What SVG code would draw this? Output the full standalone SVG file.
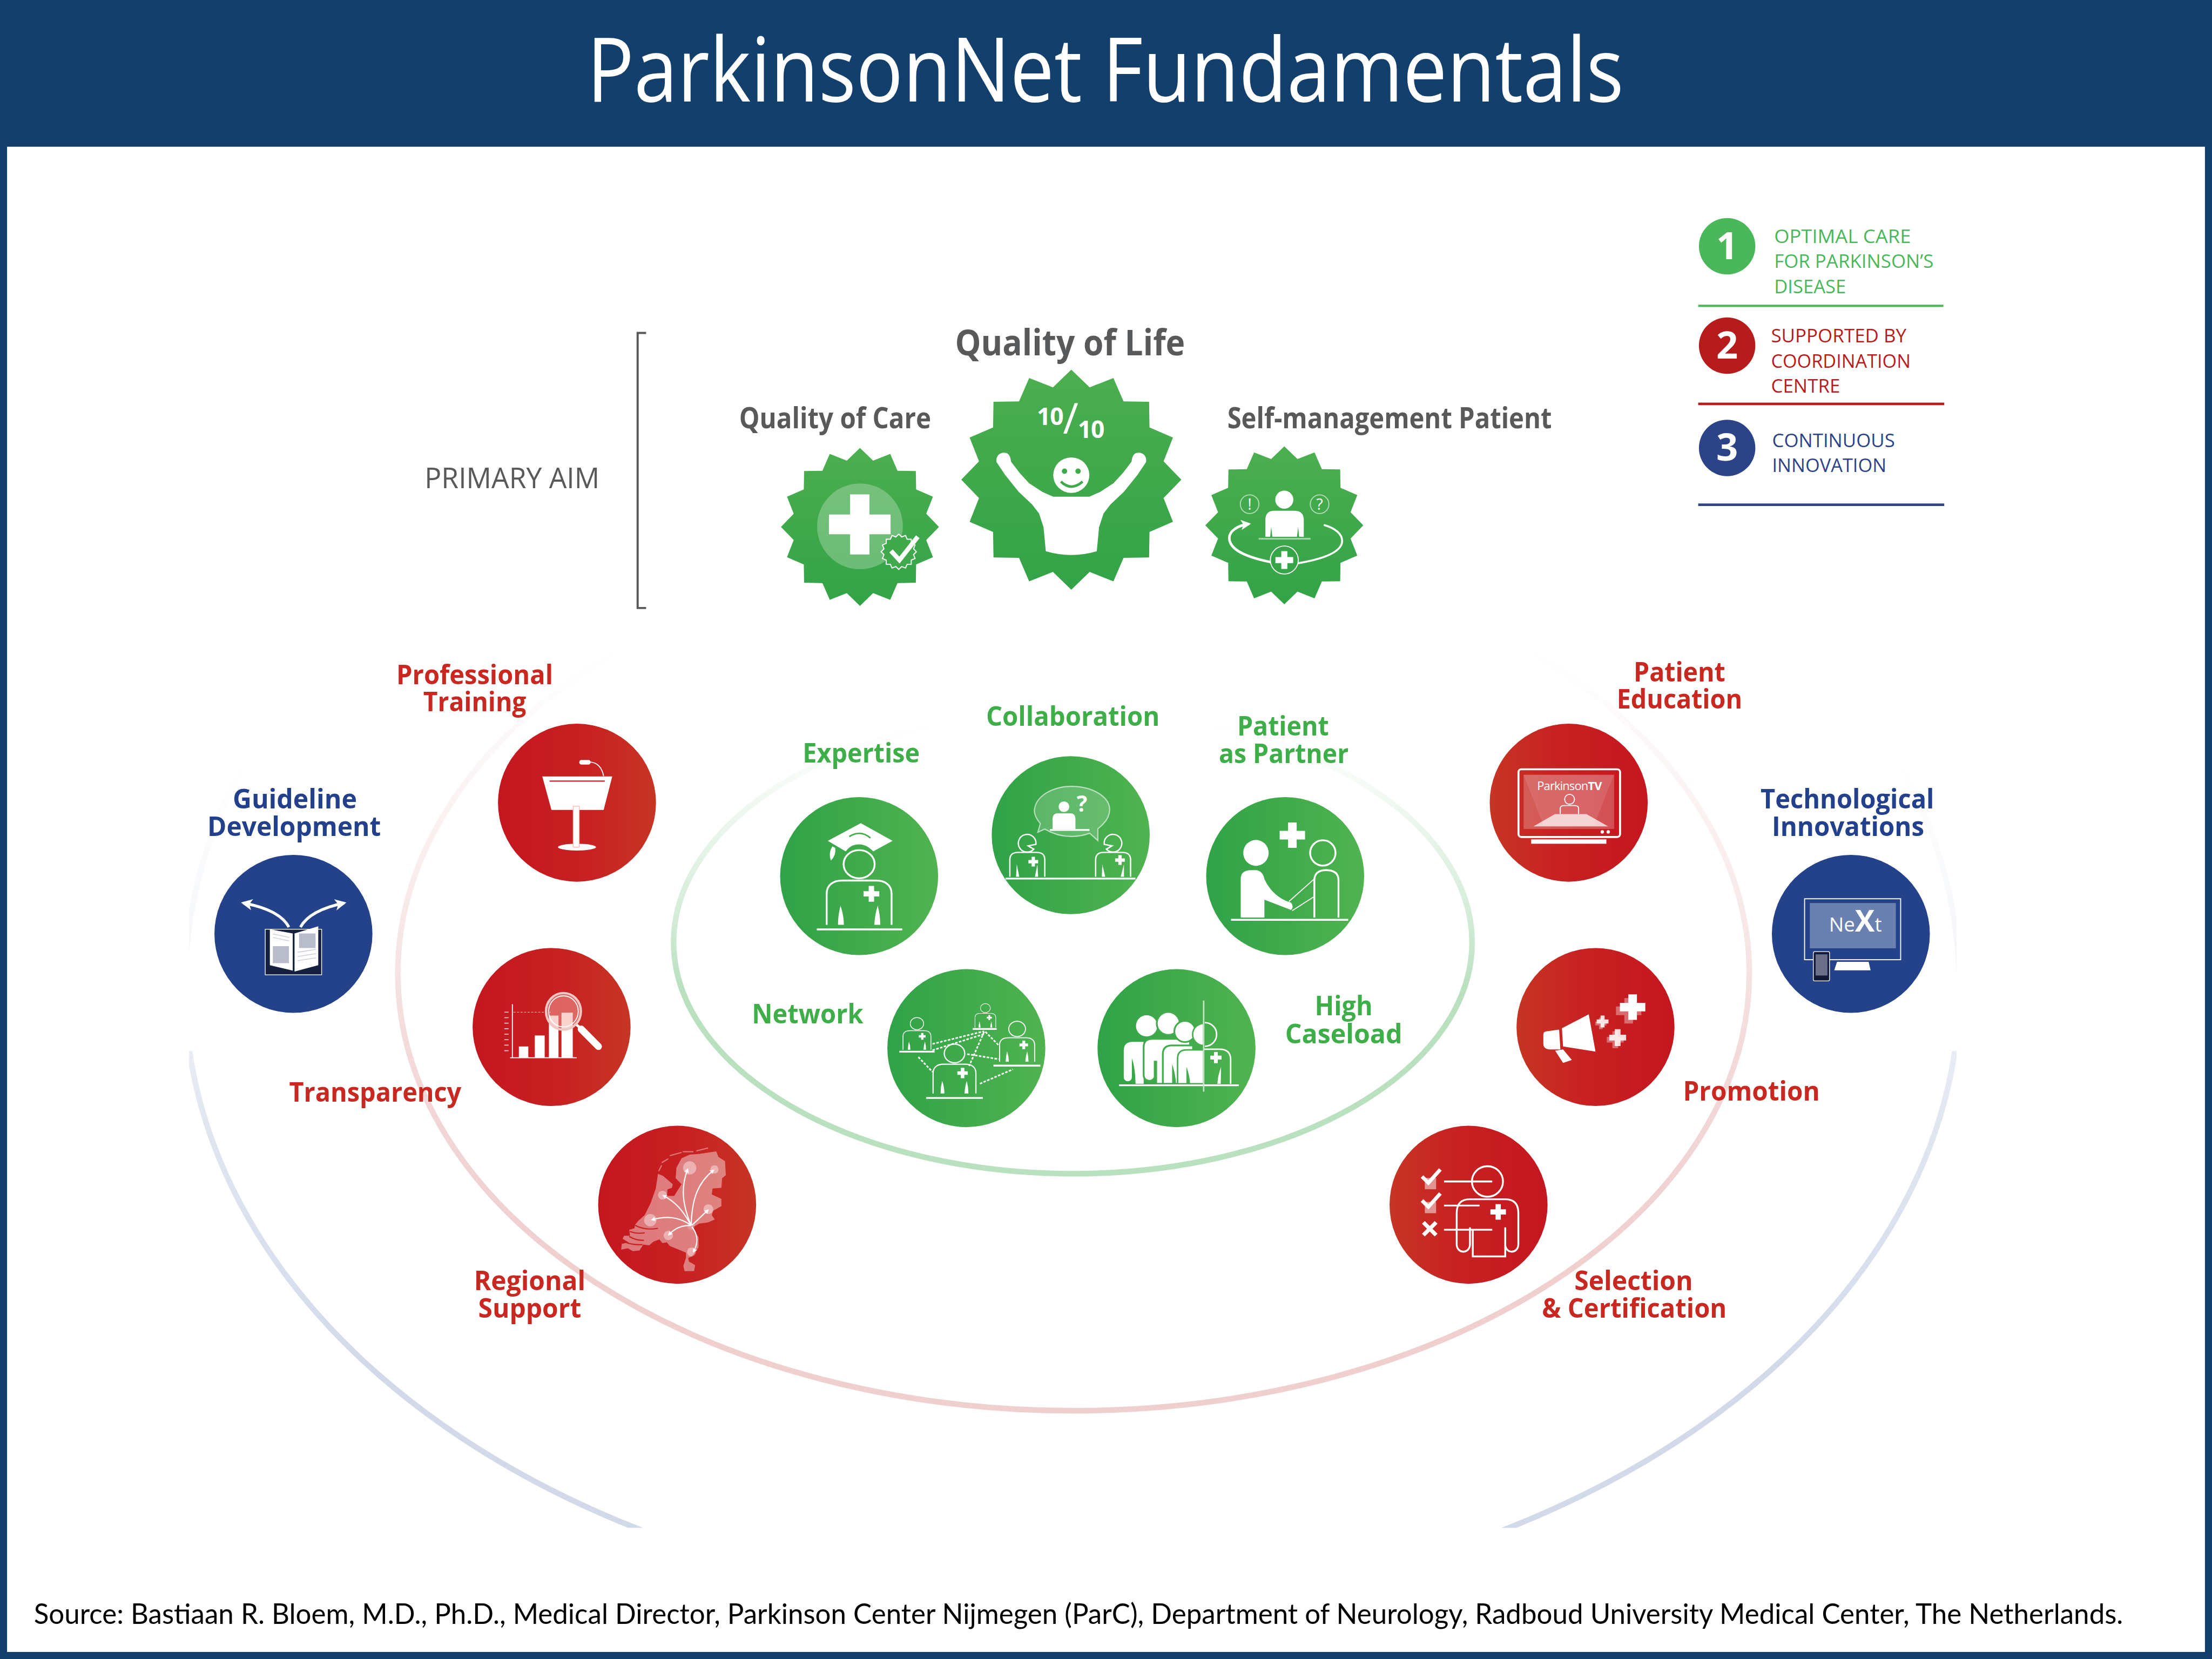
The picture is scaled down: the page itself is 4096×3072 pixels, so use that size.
<svg xmlns="http://www.w3.org/2000/svg" xmlns:xlink="http://www.w3.org/1999/xlink" width="4096" height="3072" viewBox="0 0 4096 3072">
<style>
text{font-family:"Open Sans","Noto Sans","Liberation Sans",sans-serif}
.lg{font-weight:700;font-size:19.5px;fill:#3eae49}
.lr{font-weight:700;font-size:19.5px;fill:#c8281f}
.lb{font-weight:700;font-size:19.5px;fill:#22408b}
.aim{font-weight:700;fill:#58595b}
.leg{font-size:13.5px}
.dig{font-weight:700;font-size:27px;fill:#fff;text-anchor:middle}
.ln{fill:none;stroke:#fff;stroke-width:1.3}
.th{fill:none;stroke:#fff;stroke-width:.7}
.wf{fill:#fff}
.dash{fill:none;stroke:#fff;stroke-width:1.1;stroke-dasharray:1.8 1}
.ring{fill:none;stroke-width:4}
.cg{fill:url(#gG)}.crl{fill:url(#gRL)}.crr{fill:url(#gRR)}.cb{fill:#24428a}
</style>
<defs>
<linearGradient id="gG"><stop offset="0" stop-color="#30a247"/><stop offset="1" stop-color="#50b350"/></linearGradient>
<linearGradient id="gRL"><stop offset="0" stop-color="#c4161f"/><stop offset=".6" stop-color="#c82222"/><stop offset="1" stop-color="#c63524"/></linearGradient>
<linearGradient id="gRR"><stop offset="0" stop-color="#c63524"/><stop offset=".4" stop-color="#c82222"/><stop offset="1" stop-color="#c4161f"/></linearGradient>
<linearGradient id="gS" x1="0" y1="0" x2="0" y2="1"><stop offset="0" stop-color="#4cae4f"/><stop offset="1" stop-color="#32a347"/></linearGradient>
<linearGradient id="rG" gradientUnits="userSpaceOnUse" x1="0" y1="510" x2="0" y2="830"><stop offset="0" stop-color="#b9e0bf" stop-opacity="0"/><stop offset=".12" stop-color="#b9e0bf" stop-opacity=".12"/><stop offset=".4" stop-color="#b9e0bf" stop-opacity=".55"/><stop offset=".6" stop-color="#b9e0bf"/><stop offset="1" stop-color="#b9e0bf"/></linearGradient>
<linearGradient id="rR" gradientUnits="userSpaceOnUse" x1="0" y1="460" x2="0" y2="1000"><stop offset="0" stop-color="#f0cfcf" stop-opacity="0"/><stop offset=".1" stop-color="#f0cfcf" stop-opacity=".12"/><stop offset=".3" stop-color="#f0cfcf" stop-opacity=".4"/><stop offset=".55" stop-color="#f0cfcf" stop-opacity=".8"/><stop offset=".8" stop-color="#f0cfcf"/></linearGradient>
<linearGradient id="rB" gradientUnits="userSpaceOnUse" x1="0" y1="540" x2="0" y2="1083"><stop offset="0" stop-color="#d2daea" stop-opacity="0"/><stop offset=".25" stop-color="#d2daea" stop-opacity=".25"/><stop offset=".45" stop-color="#d2daea" stop-opacity=".65"/><stop offset=".8" stop-color="#d2daea"/></linearGradient>
<clipPath id="cpB"><rect x="134" y="450" width="1253" height="240"/><rect x="134" y="745" width="1253" height="338"/></clipPath>
<marker id="wa" viewBox="0 0 10 10" refX="8" refY="5" markerWidth="4" markerHeight="4" orient="auto-start-reverse"><path d="M0 0L10 5L0 10L2.5 5Z" fill="#fff"/></marker>
<polygon id="star" points="0,-100 16.68,-83.86 38.27,-92.39 47.5,-71.09 70.71,-70.71 71.09,-47.5 92.39,-38.27 83.86,-16.68 100,0 83.86,16.68 92.39,38.27 71.09,47.5 70.71,70.71 47.5,71.09 38.27,92.39 16.68,83.86 0,100 -16.68,83.86 -38.27,92.39 -47.5,71.09 -70.71,70.71 -71.09,47.5 -92.39,38.27 -83.86,16.68 -100,0 -83.86,-16.68 -92.39,-38.27 -71.09,-47.5 -70.71,-70.71 -47.5,-71.09 -38.27,-92.39 -16.68,-83.86"/>
<path id="cross" d="M-.34-1H.34V-.34H1V.34H.34V1H-.34V.34H-1V-.34H-.34Z" fill="#fff"/>
<g id="docbody">
<path class="ln" d="M-23 34.6V12.6C-23 6-18 3.2-12 3.2H12C18 3.2 23 6 23 12.6V34.6"/>
<path class="wf" d="M-13.2 21Q-15 28-15 34.6H-10.8Q-10.8 28-13.2 21ZM13.2 21Q11 28 10.8 34.6H15Q15 28 13.2 21Z"/>
<use xlink:href="#cross" href="#cross" transform="translate(8.7 12.6) scale(5.6)"/>
</g>
<g id="doc">
<ellipse class="ln" cx="0" cy="-8.4" rx="11" ry="10"/>
<use xlink:href="#docbody" href="#docbody"/>
</g>
</defs>
<g transform="scale(2.61224)">
<rect id="background" width="1568" height="1176" fill="#fff"/>
<g id="frame" fill="#123f6b">
<rect width="1568" height="104"/><rect width="5" height="1176"/><rect x="1563" width="5" height="1176"/><rect y="1171" width="1568" height="5"/>
<text x="416" y="72" font-size="63" fill="#fff" textLength="735" lengthAdjust="spacingAndGlyphs">ParkinsonNet Fundamentals</text>
</g>

<g id="connectors">
<ellipse class="ring" cx="760" cy="700" rx="629" ry="440" stroke="url(#rB)" clip-path="url(#cpB)"/>
<ellipse class="ring" cx="761" cy="690" rx="479" ry="310" stroke="url(#rR)"/>
<ellipse class="ring" cx="760.5" cy="668" rx="283" ry="164" stroke="url(#rG)"/>
</g>

<g id="primary-aim">
<path d="M458 236H452V431H458" fill="none" stroke="#58595b" stroke-width="1.5"/>
<text x="301" y="346" font-size="20" fill="#58595b" textLength="124" lengthAdjust="spacingAndGlyphs">PRIMARY AIM</text>
</g>

<g id="quality-of-life">
<text class="aim" x="677" y="252" font-size="25.5" textLength="163" lengthAdjust="spacingAndGlyphs">Quality of Life</text>
<use xlink:href="#star" href="#star" fill="url(#gS)" transform="translate(759.4 340) scale(.78)"/>
<text x="735" y="301.4" fill="#fff" font-size="17" font-weight="700" textLength="48" lengthAdjust="spacing">10<tspan font-size="30" dy="6" font-weight="400">/</tspan><tspan dy="3">10</tspan></text>
<g transform="translate(759.4 340)">
<path class="wf" d="M-47.5-18.6C-44-18.6-43.5-15-43.2-12.6L-36.8-4.2L-30.4 2.8L-20.8 9.1L-12.8 12.6H12.8L20.8 9.1L30.4 2.8L36.8-4.2L43.2-12.6C43.5-15 44-18.6 47.5-18.6C51.5-18.6 53-15.5 52.5-12.6L46.4-3.5L36.8 8.4L27.2 17.5L22.4 23.8L19.2 33.6L17.6 50.4Q0 55.5-17.6 50.4L-19.2 33.6L-22.4 23.8L-27.2 17.5L-36.8 8.4L-46.4-3.5L-52.5-12.6C-53-15.5-51.5-18.6-47.5-18.6Z" stroke="#fff" stroke-width="1" stroke-linejoin="round"/>
<ellipse class="wf" cx="0" cy="-3.2" rx="12.8" ry="12.6"/>
<circle cx="-4.8" cy="-6" r="1.9" fill="#3ea94b"/><circle cx="4.8" cy="-6" r="1.9" fill="#3ea94b"/>
<path d="M-7.4 1.4Q0 8.5 8 1.4" fill="none" stroke="#3ea94b" stroke-width="1.8"/>
</g>
</g>

<g id="quality-of-care">
<text class="aim" x="524" y="303.5" font-size="20.5" textLength="136" lengthAdjust="spacingAndGlyphs">Quality of Care</text>
<use xlink:href="#star" href="#star" fill="url(#gS)" transform="translate(609.6 373.5) scale(.56)"/>
<g transform="translate(609.6 373.5)">
<circle cx="0" cy="-.4" r="30.4" fill="#fff" opacity=".26"/>
<path class="wf" d="M-7-23H6.7V-8.8H21.7V5.2H6.7V19.6H-7V5.2H-22V-8.8H-7Z"/>
<use xlink:href="#star" href="#star" fill="#3fa94b" stroke="#fff" stroke-width="6" transform="translate(27.5 17.6) scale(.125)"/>
<path d="M22 17L28 23.5L41 7" fill="none" stroke="#fff" stroke-width="3.2"/>
</g>
</g>

<g id="self-management">
<text class="aim" x="870" y="303.5" font-size="20.5" textLength="230" lengthAdjust="spacingAndGlyphs">Self-management Patient</text>
<use xlink:href="#star" href="#star" fill="url(#gS)" transform="translate(910.4 372.4) scale(.56)"/>
<g transform="translate(910.4 372.4)">
<circle class="wf" cx="0" cy="-18.2" r="6.4"/>
<path class="wf" d="M-13.4 8.1V-4Q-13.4-10.4-7-10.4H7Q13.8-10.4 13.8-4V8.1H10.5L9.8 1L9 8.1H-8.5L-9.3 1L-10 8.1Z"/>
<path d="M-18.2 9.5H18.6" stroke="#fff" stroke-opacity=".5" stroke-width="1.2"/>
<circle class="th" cx="-24.6" cy="-15" r="6.6" stroke-opacity=".6"/><circle class="th" cx="25" cy="-15" r="6.6" stroke-opacity=".6"/>
<text x="-24.6" y="-11" font-size="11" fill="#fff" text-anchor="middle">!</text>
<text x="25" y="-11" font-size="11" fill="#fff" text-anchor="middle">?</text>
<path d="M-8.6 26.3C-25 23-39 18-39 9C-39 4-33 0-25-1" fill="none" stroke="#fff" stroke-width="1.8" marker-end="url(#wa)"/>
<path d="M28-.3C36 2 41 6 41 11C41 19 27 24 9 27" fill="none" stroke="#fff" stroke-width="1.4"/>
<circle cx="0" cy="24.6" r="9.9" fill="#36a548" stroke="#fff" stroke-width=".7"/>
<use xlink:href="#cross" href="#cross" transform="translate(0 24.6) scale(6.3)"/>
</g>
</g>

<g id="expertise">
<text class="lg" x="569" y="540.7" textLength="83" lengthAdjust="spacingAndGlyphs">Expertise</text>
<circle class="cg" cx="609" cy="621" r="56"/>
<g transform="translate(609 621)">
<path class="wf" d="M1.2-37.5L23.7-25L10-17.5C7-21 3-22.5 0-22.5C-4-22.5-7-21-9.5-17.5L-22.2-25Z"/>
<path d="M-7-28Q1-33 8-27" fill="none" stroke="#42ab4c" stroke-width="1.1"/>
<path class="wf" d="M-19-21Q-22-16-20-11Q-16-15-17-20Z"/>
<use xlink:href="#doc" href="#doc"/>
<path d="M-30 37.8H30.6" class="ln"/>
</g>
</g>

<g id="collaboration">
<text class="lg" x="699" y="514.4" textLength="123" lengthAdjust="spacingAndGlyphs">Collaboration</text>
<circle class="cg" cx="759" cy="592" r="56"/>
<g transform="translate(759 592) scale(.1045) translate(-511 -503)">
<path d="M305 425C275 390 262 360 265 330C275 240 385 172 515 172C655 172 775 240 775 330C775 380 740 425 695 460L695 540L640 490C600 505 560 512 515 512C450 512 390 495 335 462L288 483Z" fill="#fff" fill-opacity=".18" stroke="#fff" stroke-opacity=".6" stroke-width="8"/>
<circle class="wf" cx="465" cy="310" r="36"/>
<path class="wf" d="M388 462V390Q388 355 425 355H505Q543 355 543 390V462Z"/>
<path d="M370 468H638" stroke="#fff" stroke-width="12"/>
<text x="552" y="345" font-size="150" font-weight="700" fill="#fff">?</text>
<path d="M68 798H950" stroke="#fff" stroke-width="12"/>
<g fill="none" stroke="#fff" stroke-width="9">
<path d="M275 565A60 60 0 1 0 260 598L222 576Z"/>
<path d="M98 785V670Q98 620 155 620H280Q335 620 335 670V785"/>
<path d="M738 565A60 60 0 1 1 753 598L791 576Z"/>
<path d="M680 785V670Q680 620 735 620H860Q917 620 917 670V785"/>
</g>
<path class="wf" d="M145 700L140 785H162ZM285 700L268 785H290ZM725 700L722 785H745ZM872 700L850 785H872Z"/>
<use xlink:href="#cross" href="#cross" transform="translate(257 683) scale(33)"/>
<use xlink:href="#cross" href="#cross" transform="translate(845 672) scale(33)"/>
</g>
</g>

<g id="patient-as-partner">
<text class="lg"><tspan x="877" y="521.4" textLength="65" lengthAdjust="spacingAndGlyphs">Patient</tspan><tspan x="864" y="541" textLength="92" lengthAdjust="spacingAndGlyphs">as Partner</tspan></text>
<circle class="cg" cx="911" cy="621" r="56"/>
<g transform="translate(911 621)">
<path d="M-38.4 31H44.7" class="ln"/>
<ellipse class="wf" cx="-20.7" cy="-16.4" rx="9" ry="9.2"/>
<path class="wf" d="M-31.5 29.4V2Q-31.5-4.2-24-4.2H-21Q-16-4-14.7 2.1C-11 10-5 16 4.2 18.9Q6.5 22 4.2 24L-14.7 16.8V29.4Z"/>
<circle class="ln" cx="26.7" cy="-16.4" r="9"/>
<path class="ln" d="M20.7 29.4V3Q20.7-4.2 29-4.2Q37.8-4.2 37.8 3V29.4"/>
<path class="th" d="M20.7 2L2.7 18M20.7 14.5L5 24.5"/>
<use xlink:href="#cross" href="#cross" transform="translate(5.1 -29) scale(9)"/>
</g>
</g>

<g id="network">
<text class="lg" x="533" y="725.5" textLength="79" lengthAdjust="spacingAndGlyphs">Network</text>
<circle class="cg" cx="685" cy="743" r="56"/>
<g transform="translate(685 743)">
<use xlink:href="#doc" href="#doc" transform="translate(-35 -13.8) scale(.43)"/>
<path d="M-47.5 2.5H-22.5" class="ln"/>
<use xlink:href="#doc" href="#doc" transform="translate(13.5 -25.7) scale(.32)"/>
<path d="M4.5-13.6H21.5" class="ln"/>
<use xlink:href="#doc" href="#doc" transform="translate(36 -9.1) scale(.54)"/>
<path d="M19.2 12.4H52.5" class="ln"/>
<use xlink:href="#doc" href="#doc" transform="translate(-8.4 9.3) scale(.66)"/>
<path d="M-28.5 35.3H11.7" class="ln"/>
<path class="dash" d="M-24-3L12.6-12M-24 1.5L12.6-10M12.6-11.6L2 12.6M13.5-11.6L23-2M.6 4.2L23 7.8M-34 6.3L-24 16.8M9.6 25.2L33 15"/>
</g>
</g>

<g id="high-caseload">
<text class="lg"><tspan x="932" y="719.7" textLength="41" lengthAdjust="spacingAndGlyphs">High</tspan><tspan x="911" y="739.7" textLength="83" lengthAdjust="spacingAndGlyphs">Caseload</tspan></text>
<circle class="cg" cx="834" cy="743" r="56"/>
<g transform="translate(834 743) scale(.1045) translate(-508 -508)">
<circle class="wf" cx="305" cy="357" r="72"/>
<path class="wf" d="M150 700V525Q150 465 210 465H285V750H230Q228 640 205 575V705A27 27 0 0 1 150 705Z"/>
<circle class="wf" cx="452" cy="340" r="78" stroke="#42ab4c" stroke-width="12"/>
<path class="wf" d="M285 690V500Q285 445 345 445H600V750H370V600L360 600V705Q350 730 322 730Q285 725 285 690Z" stroke="#42ab4c" stroke-width="12"/>
<circle class="wf" cx="565" cy="395" r="72" stroke="#42ab4c" stroke-width="12"/>
<path class="wf" d="M415 750V550Q415 490 475 490H620V750Z" stroke="#42ab4c" stroke-width="12"/>
<path fill="#42ab4c" d="M478 615Q500 680 505 750H478Z"/>
<path class="wf" d="M692 340A75 75 0 0 0 692 490Z" stroke="#44ad4d" stroke-width="10"/>
<path class="wf" d="M515 750V580Q515 520 575 520H692V750Z" stroke="#44ad4d" stroke-width="10"/>
<path fill="#44ad4d" d="M575 635Q597 690 600 750H575Z"/>
<path d="M700 335A80 80 0 0 1 700 495M692 515H800Q875 515 875 585V750" fill="none" stroke="#fff" stroke-width="10"/>
<path class="wf" d="M810 635Q788 695 785 750H808Z"/>
<use xlink:href="#cross" href="#cross" transform="translate(775 572) scale(38)"/>
<path d="M118 760H930" stroke="#fff" stroke-width="12"/>
<path d="M692 185V803" stroke="#c3e5c5" stroke-width="10"/>
</g>
</g>

<g id="professional-training">
<text class="lr"><tspan x="281" y="485" textLength="111" lengthAdjust="spacingAndGlyphs">Professional</tspan><tspan x="300" y="504.2" textLength="73" lengthAdjust="spacingAndGlyphs">Training</tspan></text>
<circle class="crl" cx="409" cy="569" r="56"/>
<g transform="translate(409 569)">
<path class="wf" d="M-24.6-18.6H25L18.9 5.1H-18.1Z"/>
<path d="M-19.4-15.3H19.7" stroke="#c82222" stroke-width=".8"/>
<ellipse class="wf" cx="0" cy="31.5" rx="13.5" ry="2.4"/>
<rect class="wf" x="-2.7" y="2.5" width="4.3" height="29" stroke="#f5b8b0" stroke-width=".5"/>
<rect class="wf" x="1.6" y="-30.3" width="8.1" height="3.3" rx="1.6"/>
<path class="th" d="M9.7-28.8Q17-28 18.9-18.9"/>
</g>
</g>

<g id="transparency">
<text class="lr" x="205" y="781.1" textLength="122" lengthAdjust="spacingAndGlyphs">Transparency</text>
<circle class="crl" cx="391" cy="728" r="56"/>
<g transform="translate(391 728)">
<path class="th" d="M-27.8-16.2V21.6M-29.4 21.8H17.8"/>
<path d="M-33.5-10.5H-30.5M-33.5-6.6H-30.5M-33.5-2.7H-30.5M-33.5 1.2H-30.5M-33.5 5.1H-30.5M-33.5 9H-30.5M-33.5 12.9H-30.5M-33.5 16.8H-30.5" stroke="#fff" stroke-width=".6" stroke-opacity=".8"/>
<path d="M-27-10.5H0" stroke="#f2a7a0" stroke-width=".5" stroke-dasharray="1.5 1"/>
<rect class="wf" x="-23.2" y="13.8" width="6.7" height="7.8"/>
<rect class="wf" x="-11.9" y="6" width="7" height="15.6"/>
<rect class="wf" x="-1.9" y="-8.1" width="6.8" height="29.7"/>
<rect class="wf" x="7" y="-10.2" width="8" height="31.8"/>
<path d="M16.5-2.5L22 2" stroke="#fff" stroke-width="1.8"/>
<path d="M21 1.5L33.2 13.8" stroke="#fff" stroke-width="5" stroke-linecap="round"/>
<ellipse cx="8.4" cy="-11.1" rx="12.4" ry="13" fill="#f5a8a0" fill-opacity=".5" stroke="#efc8c4" stroke-width="1.6"/>
<ellipse class="th" cx="8.4" cy="-11.1" rx="10.5" ry="11"/>
</g>
</g>

<g id="regional-support">
<text class="lr"><tspan x="336" y="914.6" textLength="79" lengthAdjust="spacingAndGlyphs">Regional</tspan><tspan x="339" y="934" textLength="73" lengthAdjust="spacingAndGlyphs">Support</tspan></text>
<circle class="crl" cx="480" cy="854" r="56"/>
<g transform="translate(480 854) scale(.1045) translate(-490 -490)">
<path fill="#fff" fill-opacity=".42" d="M520 175L575 150L640 145L755 128L770 165L815 195L820 290L795 310L790 375L730 380L725 420L790 450L790 500L735 530L725 560L745 590L700 610L640 618L600 640L610 670L635 710L635 780L590 840L565 850L570 875L612 900L605 940L540 940L532 905L550 850L550 815L490 790L440 770L420 745L390 750L370 725L330 740L300 765L260 760L235 800L190 805L155 785L110 795L115 755L160 745L120 720L130 700L170 700L165 660L200 650L205 625L225 600L270 560L310 480L345 380L360 280L395 295L425 320L460 350L455 375L425 385L420 430L470 430L520 350L480 310L485 240Z"/>
<path d="M440 157L520 135M528 130L600 130M620 125L700 105M385 205L430 178M365 262L385 222" fill="none" stroke="#fff" stroke-opacity=".4" stroke-width="8"/>
<path d="M205 630Q270 665 360 650M170 672Q220 690 270 680M165 705Q215 735 265 730M130 740Q180 765 255 760" fill="none" stroke="#c8201f" stroke-width="8"/>
<g fill="#fff" fill-opacity=".4"><circle cx="575" cy="240" r="45"/><circle cx="743" cy="250" r="28"/><circle cx="390" cy="425" r="30"/><circle cx="702" cy="520" r="33"/><circle cx="308" cy="595" r="42"/><circle cx="430" cy="698" r="32"/><circle cx="587" cy="810" r="30"/><circle cx="585" cy="635" r="25" fill-opacity=".2"/></g>
<g fill="none" stroke="#fff" stroke-width="8" marker-end="url(#wa)">
<path d="M585 630C530 500 510 380 562 248"/>
<path d="M585 630C590 450 630 340 738 255"/>
<path d="M585 630C530 530 480 470 395 427"/>
<path d="M585 630C500 570 420 565 318 592"/>
<path d="M585 630C510 630 470 655 432 695"/>
<path d="M590 640C630 690 635 750 600 810"/>
<path d="M590 630L700 525"/>
</g>
</g>
</g>

<g id="guideline-development">
<text class="lb"><tspan x="165" y="573.2" textLength="88" lengthAdjust="spacingAndGlyphs">Guideline</tspan><tspan x="147" y="592.7" textLength="123" lengthAdjust="spacingAndGlyphs">Development</tspan></text>
<circle class="cb" cx="208" cy="662" r="56"/>
<g transform="translate(208 662)">
<rect x="-20" y="-3.3" width="40" height="32.3" fill="#16213f" stroke="#fff" stroke-width=".5"/>
<path class="wf" d="M-16.7-3.3L-.5-.3V26L-16.7 22.2ZM.8-.3L17.6-5.4V22.2L.8 26.7Z"/>
<path d="M-14.6 8.7H-3.2V20.7H-14.6ZM4-.3H15.7V10H4Z" fill="#b9bccb"/>
<path d="M-14.5 0L-3 2.5M-14.5 2.5L-3 5M3 13L16 11M3 16L16 14M3 19L16 17" stroke="#c5c8d4" stroke-width=".5"/>
<path d="M-3.2-4.8C-8-14-20-19-35.6-21.9" fill="none" stroke="#fff" stroke-width="2" marker-end="url(#wa)"/>
<path d="M5-4.8C10-14 22-19 36-21.9" fill="none" stroke="#fff" stroke-width="2" marker-end="url(#wa)"/>
</g>
</g>

<g id="patient-education">
<text class="lr"><tspan x="1158" y="483.2" textLength="65" lengthAdjust="spacingAndGlyphs">Patient</tspan><tspan x="1146" y="502.4" textLength="89" lengthAdjust="spacingAndGlyphs">Education</tspan></text>
<circle class="crr" cx="1112" cy="569" r="56"/>
<g transform="translate(1112 569)">
<rect x="-35.6" y="-23.7" width="72" height="48" rx="2" fill="none" stroke="#fff" stroke-width="1.4"/>
<rect x="-32" y="-19.8" width="64.2" height="38.4" fill="#fff" fill-opacity=".24"/>
<path d="M-32-19.8L-18 16H18L32-19.8Z" fill="#fff" fill-opacity=".1"/>
<path d="M-25 16.8L-9.8 8.1H12.6L28 16.8Z" fill="#fff" fill-opacity=".72"/>
<circle class="th" cx=".6" cy="-2.4" r="3.5"/>
<path class="th" d="M-6 8V4Q-6 2-3 2H4Q7 2 7 4V8"/>
<text x="-22.4" y="-8.8" font-size="8.4" fill="#fff" textLength="46">Parkinson<tspan font-weight="700">TV</tspan></text>
<circle class="wf" cx="23.8" cy="20.7" r="1.2"/><circle class="wf" cx="28" cy="20.7" r="1.2"/>
<rect class="wf" x="-26.6" y="26" width="53.3" height="3.1"/>
</g>
</g>

<g id="promotion">
<text class="lr" x="1193" y="780" textLength="97" lengthAdjust="spacingAndGlyphs">Promotion</text>
<circle class="crr" cx="1131" cy="728" r="56"/>
<g transform="translate(1131 728)">
<path class="wf" d="M-23.8.9L-4.8-9L0 17.4L-23 13.8Z"/>
<path class="wf" d="M-37 5.4Q-37 3-34 3L-25.8 1.8L-24.9 15.9L-33 15.9Q-37 15.5-37 12Z"/>
<path class="wf" d="M-28.6 16.8L-23 15.9L-16.8 23.4L-23 25.5Z"/>
<g opacity=".35"><use xlink:href="#cross" href="#cross" transform="translate(23.5 -11.5) scale(9)"/><use xlink:href="#cross" href="#cross" transform="translate(14 9) scale(6)"/><use xlink:href="#cross" href="#cross" transform="translate(3.8 -2.5) scale(4)"/></g>
<use xlink:href="#cross" href="#cross" transform="translate(26.3 -14.1) scale(9)"/>
<use xlink:href="#cross" href="#cross" transform="translate(15.7 7.5) scale(6)" opacity=".85"/>
<use xlink:href="#cross" href="#cross" transform="translate(5 -3.9) scale(4.2)" opacity=".85"/>
</g>
</g>

<g id="selection-certification">
<text class="lr"><tspan x="1116" y="914.6" textLength="84" lengthAdjust="spacingAndGlyphs">Selection</tspan><tspan x="1093" y="934" textLength="131" lengthAdjust="spacingAndGlyphs">&amp; Certification</tspan></text>
<circle class="crr" cx="1041" cy="854" r="56"/>
<g transform="translate(1041 854)">
<ellipse class="ln" cx="13.4" cy="-16.5" rx="11" ry="10.8"/>
<path class="ln" d="M-8.4 28V6Q-8.4-3.9 1-3.9H26Q35.3-3.9 35.3 6V28C35.3 35 26 35 26 28V16M-8.4 28C-8.4 35 1 35 1 28V16M3 18V36.6H26V18"/>
<path class="ln" d="M-17.4-16.5H16.8M-17.4.6H7.8M-17.4 17.7H16.8"/>
<use xlink:href="#cross" href="#cross" transform="translate(21 5.1) scale(5.5)"/>
<rect x="-31" y="-19" width="8" height="8" fill="#fff" fill-opacity=".5"/>
<rect x="-31" y="-2" width="8" height="8" fill="#fff" fill-opacity=".5"/>
<path d="M-33-20L-28.5-15.5L-20-25M-33-3L-28.5 1.5L-20-8" fill="none" stroke="#fff" stroke-width="2.6"/>
<path d="M-32 12.5L-23 21.5M-23 12.5L-32 21.5" stroke="#fff" stroke-width="2.8"/>
</g>
</g>

<g id="technological-innovations">
<text class="lb"><tspan x="1248" y="573" textLength="123" lengthAdjust="spacingAndGlyphs">Technological</tspan><tspan x="1256" y="592.7" textLength="108" lengthAdjust="spacingAndGlyphs">Innovations</tspan></text>
<circle class="cb" cx="1312" cy="662" r="56"/>
<g transform="translate(1312 662)">
<rect x="-32.8" y="-24.9" width="68.1" height="43.2" fill="none" stroke="#fff" stroke-width=".7"/>
<rect x="-29.1" y="-21.9" width="61" height="32.1" fill="#6a80b0"/>
<text x="-15.5" y="-1.5" font-size="14" fill="#fff">Ne<tspan font-size="21" font-weight="700">X</tspan>t</text>
<path class="wf" d="M-9.8 19.8H12.6L14 25.8H-11.8Z"/>
<rect x="-26.6" y="12.6" width="11.5" height="20.7" rx="1" fill="#121a3a" stroke="#fff" stroke-width=".5"/>
<rect x="-25" y="14.5" width="8.4" height="15" fill="#6b6f8a"/>
</g>
</g>

<g id="legend">
<g id="legend-1">
<circle cx="1224.3" cy="174.6" r="20" fill="#4ab85a"/>
<text class="dig" x="1224.3" y="183.6">1</text>
<text class="leg" fill="#4ab85a"><tspan x="1257.6" y="172.2" textLength="97" lengthAdjust="spacingAndGlyphs">OPTIMAL CARE</tspan><tspan x="1257.6" y="189.9" textLength="113" lengthAdjust="spacingAndGlyphs">FOR PARKINSON’S</tspan><tspan x="1257.6" y="207.9" textLength="51" lengthAdjust="spacingAndGlyphs">DISEASE</tspan></text>
<rect x="1203.8" y="216" width="173.8" height="1.6" fill="#4ab85a"/>
</g>
<g id="legend-2">
<circle cx="1224.3" cy="245" r="20" fill="#b71c1c"/>
<text class="dig" x="1224.3" y="254">2</text>
<text class="leg" fill="#b71c1c"><tspan x="1255.4" y="242.7" textLength="96" lengthAdjust="spacingAndGlyphs">SUPPORTED BY</tspan><tspan x="1255.4" y="260.6" textLength="99" lengthAdjust="spacingAndGlyphs">COORDINATION</tspan><tspan x="1255.4" y="278.4" textLength="49" lengthAdjust="spacingAndGlyphs">CENTRE</tspan></text>
<rect x="1203.8" y="285.4" width="174.4" height="1.8" fill="#b71c1c"/>
</g>
<g id="legend-3">
<circle cx="1224.3" cy="317.5" r="20" fill="#2c4388"/>
<text class="dig" x="1224.3" y="326.7">3</text>
<text class="leg" fill="#2c4388"><tspan x="1256.2" y="317" textLength="87" lengthAdjust="spacingAndGlyphs">CONTINUOUS</tspan><tspan x="1256.2" y="334.6" textLength="81" lengthAdjust="spacingAndGlyphs">INNOVATION</tspan></text>
<rect x="1203.8" y="356.9" width="174.4" height="1.8" fill="#2c4388"/>
</g>
</g>

<text id="source" x="24" y="1151" font-size="19.8" fill="#000" style="font-family:Lato,'Open Sans',sans-serif" textLength="1481" lengthAdjust="spacingAndGlyphs">Source: Bastiaan R. Bloem, M.D., Ph.D., Medical Director, Parkinson Center Nijmegen (ParC), Department of Neurology, Radboud University Medical Center, The Netherlands.</text>
</g>
</svg>
